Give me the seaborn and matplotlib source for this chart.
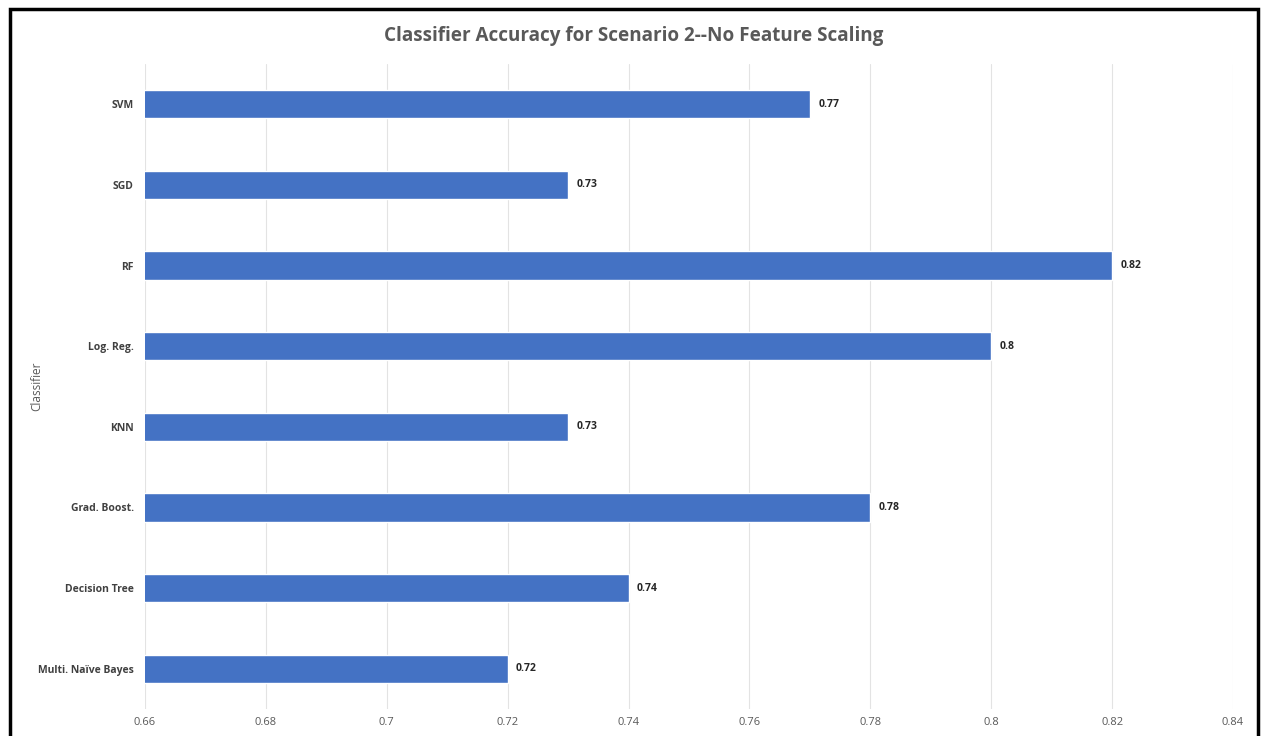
import matplotlib
matplotlib.use("Agg")
import matplotlib.pyplot as plt
import seaborn as sns
import pandas as pd
from matplotlib.patches import Rectangle

classifiers = ["SVM", "SGD", "RF", "Log. Reg.", "KNN", "Grad. Boost.", "Decision Tree", "Multi. Naïve Bayes"]
accuracy = [0.77, 0.73, 0.82, 0.8, 0.73, 0.78, 0.74, 0.72]
x_ticks = [0.66, 0.68, 0.70, 0.72, 0.74, 0.76, 0.78, 0.80, 0.82, 0.84]
x_tick_labels = ["0.66", "0.68", "0.7", "0.72", "0.74", "0.76", "0.78", "0.8", "0.82", "0.84"]

df = pd.DataFrame({"Classifier": classifiers, "Accuracy": accuracy})

sns.set_theme(style="white")
plt.rcParams['font.family'] = ['Open Sans', 'DejaVu Sans']

fig = plt.figure(figsize=(12.62, 7.36), dpi=100)
ax = fig.add_axes([145/1262, 27/736, (1233-145)/1262, (709-64)/736])

sns.barplot(data=df, y="Classifier", x="Accuracy", orient="h", color="#4472C4",
            width=0.35, ax=ax, saturation=1)

ax.set_xlim(0.66, 0.84)
ax.set_xticks(x_ticks)
ax.set_xticklabels(x_tick_labels, fontsize=8, color="#595959")
ax.set_xlabel("")
ax.set_ylabel("Classifier", fontsize=8.5, color="#595959")
ax.yaxis.set_label_coords((43 - 145) / 1088, 0.5)
ax.tick_params(axis="y", length=0, pad=8)
ax.tick_params(axis="x", length=0, pad=6)
for lab in ax.get_yticklabels():
    lab.set_fontsize(7.5)
    lab.set_fontweight("bold")
    lab.set_color("#404040")

ax.grid(axis="x", color="#e3e3e3", linewidth=0.8)
ax.set_axisbelow(True)
for s in ax.spines.values():
    s.set_visible(False)

for c in ax.containers:
    ax.bar_label(c, labels=[f"{v:g}" for v in accuracy], padding=6, fontsize=7.5,
                 fontweight="bold", color="#262626")

fig.text(634/1262, 1-36/736, "Classifier Accuracy for Scenario 2--No Feature Scaling",
         ha="center", va="center", fontsize=13.6, fontweight="bold", color="#595959")

fig.patches.append(Rectangle((10/1262, -0.05), (1258-10)/1262, 1.05 - 9/736,
                             transform=fig.transFigure, fill=False,
                             edgecolor="black", linewidth=2.5, figure=fig))

fig.savefig("out.png", dpi=100, facecolor="white")
